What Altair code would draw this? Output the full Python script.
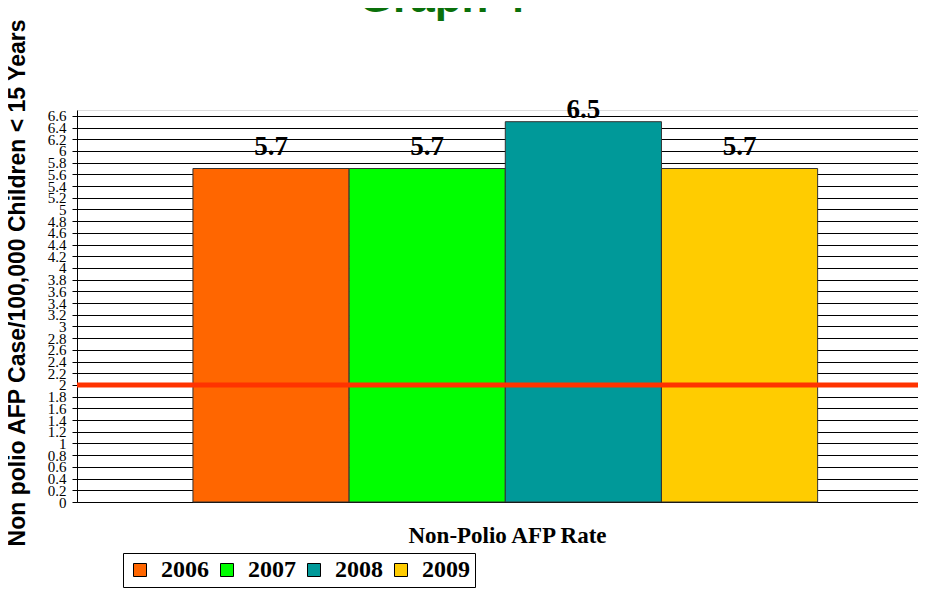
import altair as alt
import pandas as pd

# ---- data ----
years = ["2006", "2007", "2008", "2009"]
rates = [5.7, 5.7, 6.5, 5.7]
colors = ["#FF6600", "#00FF00", "#009999", "#FFCC00"]
target = [2]
y_ticks = [0, 0.2, 0.4, 0.6, 0.8, 1, 1.2, 1.4, 1.6, 1.8, 2, 2.2, 2.4, 2.6, 2.8,
           3, 3.2, 3.4, 3.6, 3.8, 4, 4.2, 4.4, 4.6, 4.8, 5, 5.2, 5.4, 5.6, 5.8,
           6, 6.2, 6.4, 6.6]
y_max = 6.7
chart_title = "Graph 4"
x_title = "Non-Polio AFP Rate"
y_title = "Non polio AFP Case/100,000 Children < 15 Years"

SERIF = "Liberation Serif"
SANS = "Liberation Sans"

W, H = 841, 392

df = pd.DataFrame({"year": years, "rate": rates})

x_enc = alt.X(
    "year:N",
    sort=years,
    scale=alt.Scale(paddingInner=0, paddingOuter=0.6925, align=0.536),
    axis=alt.Axis(
        labels=False, ticks=False, domain=True, domainColor="black", grid=False,
        title=x_title, titleFont=SERIF, titleFontSize=23, titleFontWeight="bold",
        titleColor="black", titleX=430, titleY=40, titleBaseline="alphabetic",
        titleAlign="center", titleAnchor="middle",
    ),
)
y_scale = alt.Scale(domain=[0, y_max], nice=False, zero=True)

bars = alt.Chart(df).mark_bar(stroke="#333333", strokeWidth=1).encode(
    x=x_enc,
    y=alt.Y(
        "rate:Q",
        scale=y_scale,
        axis=alt.Axis(
            values=y_ticks, tickCount=40, format=".1~f", labelFont=SERIF,
            labelFontSize=15, labelColor="black", labelOverlap=False,
            tickColor="black", tickSize=5, labelPadding=6, domainColor="black",
            gridColor="black", gridWidth=1, grid=True, title=None,
        ),
    ),
    color=alt.Color(
        "year:N",
        scale=alt.Scale(domain=years, range=colors),
        legend=alt.Legend(
            orient="none", legendX=46, legendY=443, direction="horizontal",
            title=None, symbolType="square", symbolSize=169,
            symbolStrokeColor="black", symbolStrokeWidth=1, symbolOpacity=1,
            labelFont=SERIF, labelFontSize=24, labelFontWeight="bold",
            labelColor="black", labelOffset=9, columnPadding=6, padding=5,
            strokeColor="black", fillColor="white",
        ),
    ),
)

rule = alt.Chart(pd.DataFrame({"t": target})).mark_rule(
    color="#FF3300", strokeWidth=5
).encode(y=alt.Y("t:Q", scale=y_scale))

labels = alt.Chart(df).transform_calculate(
    lp="min(datum.rate + 0.23, 6.56)"
).mark_text(
    font=SERIF, fontSize=27, fontWeight="bold", color="black",
    baseline="alphabetic", align="center",
).encode(
    x=alt.X("year:N", sort=years),
    y=alt.Y("lp:Q", scale=y_scale),
    text=alt.Text("rate:Q", format=".1f"),
)

title_txt = alt.Chart(pd.DataFrame({"t": [chart_title]})).mark_text(
    font=SANS, fontSize=44, fontWeight="bold", color="#0A700A",
    align="center", baseline="alphabetic",
).encode(text="t:N", x=alt.value(365), y=alt.value(-98))

ytitle_txt = alt.Chart(pd.DataFrame({"t": [y_title]})).mark_text(
    font=SANS, fontSize=23, fontWeight="bold", color="black",
    align="center", baseline="alphabetic", angle=270,
).encode(text="t:N", x=alt.value(-52), y=alt.value(173))

chart = alt.layer(bars, rule, labels, title_txt, ytitle_txt).properties(
    width=W, height=H,
    autosize=alt.AutoSizeParams(type="none"),
    padding={"left": 69, "top": 102, "right": 0, "bottom": 87},
).configure_view(stroke="black", strokeWidth=1).configure(background="white")

chart.save("out.html", embed_options={"renderer": "svg", "actions": False})
